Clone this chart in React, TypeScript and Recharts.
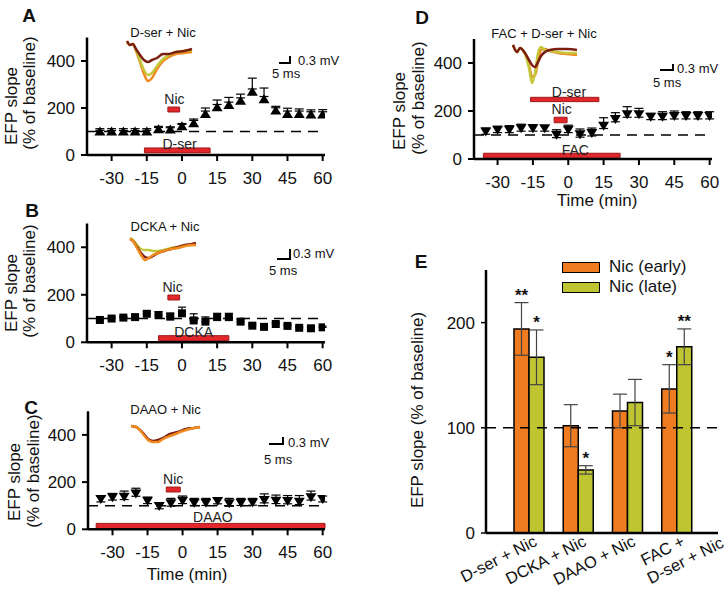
import React from 'react';
import {
  ComposedChart, Scatter, XAxis, YAxis, ReferenceLine, ReferenceArea, ErrorBar,
  LineChart, Line, BarChart, Bar, LabelList,
} from 'recharts';

const FONT = '"Liberation Sans", Arial, Helvetica, sans-serif';

// time course panels (A-D)
const times = [-35, -30, -25, -20, -15, -10, -5, 0, 5, 10, 15, 20, 25, 30, 35, 40, 45, 50, 55, 60];
const timeTicks = [-30, -15, 0, 15, 30, 45, 60];
const slopeTicks = [0, 200, 400];

const slopeA = [100, 100, 100, 100, 100, 110, 108, 122, 135, 175, 203, 213, 231, 269, 237, 189, 175, 175, 172, 172];
const errA = [5, 4, 4, 4, 5, 7, 8, 8, 18, 25, 31, 32, 28, 58, 48, 18, 24, 21, 20, 21];
const slopeB = [94, 100, 104, 106, 120, 115, 108, 122, 92, 87, 106, 106, 87, 70, 65, 77, 69, 61, 59, 63];
const errB = [6, 5, 5, 6, 10, 14, 15, 26, 28, 20, 16, 16, 10, 8, 6, 6, 6, 5, 5, 5];
const slopeC = [128, 136, 138, 152, 121, 99, 110, 121, 113, 113, 120, 110, 113, 114, 124, 121, 120, 117, 136, 128];
const errC = [13, 16, 24, 22, 15, 14, 21, 20, 18, 18, 14, 21, 18, 17, 26, 24, 23, 26, 26, 13];
const slopeD = [115, 122, 122, 128, 128, 128, 101, 122, 103, 108, 139, 167, 186, 186, 176, 176, 179, 179, 179, 179];
const errD = [14, 14, 17, 17, 15, 11, 21, 19, 22, 21, 33, 26, 32, 25, 14, 21, 21, 18, 18, 18];

// drug application windows (min)
const drugsA = [{ name: 'Nic', from: -6, to: -1, labelT: -3.2 }, { name: 'D-ser', from: -16, to: 12, labelT: -1 }];
const drugsB = [{ name: 'Nic', from: -6, to: -1, labelT: -4 }, { name: 'DCKA', from: -10, to: 20, labelT: 5 }];
const drugsC = [{ name: 'Nic', from: -7, to: -1, labelT: -4 }, { name: 'DAAO', from: -37, to: 61, labelT: 13 }];
const drugsD = [
  { name: 'D-ser', from: -16, to: 13, labelT: 0.3 },
  { name: 'Nic', from: -6, to: -0.5, labelT: -2.8 },
  { name: 'FAC', from: -36, to: 22, labelT: 3 },
];

// example EFP traces (baseline / nic early / nic late)
const tA = [1, 4, 7, 10, 14, 18, 22, 26, 31, 37, 43, 50, 58, 66];
const darkRedA = [5, 1, 2, -3, -9, -14, -16, -14, -12, -8, -8, -6, -5, -3];
const orangeA = [4, 1, 2, -5, -16, -28, -35, -32, -23, -15, -11, -8, -7, -6];
const yellowA = [5, 1, 2, -4, -14, -24, -29, -27, -20, -13, -9, -6, -5, -4];
const tB = [2, 5, 9, 13, 17, 21, 25, 30, 36, 43, 50, 57, 64, 68];
const orangeB = [1, -1, -8, -15, -20, -18, -15, -13, -11, -9, -8, -6, -5, -5];
const darkRedB = [1, -1, -7, -13, -17, -18, -16, -13, -11, -9, -7, -5, -4, -3];
const yellowB = [2, 0, -5, -9, -10, -10, -11, -11, -10, -8, -7, -6, -5, -5];
const tC = [3, 8, 12, 15, 20, 25, 30, 35, 42, 50, 58, 66, 72];
const orangeC = [1, 0, -3, -7, -13, -15, -15, -12, -9, -6, -3, -1, 0];
const darkRedC = [1, 0, -3, -6, -12, -14, -13, -11, -7, -5, -2, -1, 0];
const tD = [3, 7, 10, 15, 19, 22, 25, 28, 31, 35, 40, 48, 57, 67];
const darkRedD = [5, -2, 2, -3, -10, -15, -17, -12, -6, -2, 0, 1, 1, 0];
const yellowD = [5, -2, 2, -4, -18, -33, -23, -3, 3, 0, -1, -2, -3, -3];
const orangeD = [5, -2, 2, -4, -15, -27, -25, -12, 0, 1, -1, -3, -4, -5];

// summary panel (E)
const categoriesE = ['D-ser + Nic', 'DCKA + Nic', 'DAAO + Nic', 'FAC +\nD-ser + Nic'];
const earlyVals = [194, 102, 116, 137];
const earlyErr = [25, 20, 16, 23];
const earlySig = ['**', '', '', '*'];
const lateVals = [167, 60, 124, 177];
const lateErr = [26, 4, 22, 17];
const lateSig = ['*', '*', '', '**'];
const seriesE = [
  { key: 'early', name: 'Nic (early)', color: '#F07C22' },
  { key: 'late', name: 'Nic (late)', color: '#BEC531' },
];

const RED = '#E3262B';
const DARK = '#7A1E12';
const ORANGE = '#F08A1E';
const YELLOW = '#C4C73A';

const triUp = (p: any) => (
  <polygon points={`${p.cx},${p.cy - 5} ${p.cx + 5.5},${p.cy + 4} ${p.cx - 5.5},${p.cy + 4}`} fill="#000" />
);
const triDown = (p: any) => (
  <polygon points={`${p.cx - 5.5},${p.cy - 4} ${p.cx + 5.5},${p.cy - 4} ${p.cx},${p.cy + 5}`} fill="#000" />
);
const square = (p: any) => <rect x={p.cx - 4} y={p.cy - 4} width={8} height={8} fill="#000" />;

function Abs({ x, y, size = 13, bold = false, rotate = false, left = false, children }: any) {
  return (
    <div
      style={{
        position: 'absolute', left: x, top: y, fontSize: size, fontWeight: bold ? 'bold' : 'normal',
        transform: `translate(${left ? '0' : '-50%'}, -50%)${rotate ? ' rotate(-90deg)' : ''}`,
        whiteSpace: 'nowrap', lineHeight: 1, fontFamily: FONT, color: '#111',
      }}
    >
      {children}
    </div>
  );
}

function ScaleBar({ x, y, w, h }: any) {
  return (
    <div style={{ position: 'absolute', left: x, top: y, width: w, height: h, boxSizing: 'border-box',
      borderRight: '2px solid #000', borderBottom: '2px solid #000' }} />
  );
}

function Trace({ x, y, w, h, t, series, yDomain }: any) {
  const data = t.map((tt: number, i: number) => {
    const o: any = { t: tt };
    series.forEach((s: any, k: number) => { o['s' + k] = s.values[i]; });
    return o;
  });
  return (
    <div style={{ position: 'absolute', left: x, top: y }}>
      <LineChart width={w} height={h} data={data} margin={{ top: 0, right: 0, bottom: 0, left: 0 }}>
        <XAxis type="number" dataKey="t" hide domain={[0, w]} />
        <YAxis type="number" hide domain={yDomain} allowDataOverflow />
        {series.map((s: any, k: number) => (
          <Line key={k} dataKey={'s' + k} type="monotone" stroke={s.color} strokeWidth={2.5}
            dot={false} isAnimationActive={false} />
        ))}
      </LineChart>
    </div>
  );
}

const drugLabel = (d: any, offset: number) => (props: any) => {
  const vb = props.viewBox;
  const cx = vb.x + ((d.labelT - d.from) / (d.to - d.from)) * vb.width;
  return (
    <text x={cx} y={vb.y - offset} textAnchor="middle" fontSize={14} fontFamily={FONT} fill="#222">
      {d.name}
    </text>
  );
};

// capLow: where the hidden lower whisker sits (inside the marker), in y units relative to the point
function TimePanel({ x, y, w, h, margin, xDomain, values, errs, shape, capLow, capW, drugs, lanes }: any) {
  const data = times.map((t, i) => ({ t, v: values[i], e: [capLow, errs[i]] }));
  const tickStyle = { fill: '#111', fontSize: 17, fontFamily: FONT };
  return (
    <div style={{ position: 'absolute', left: x, top: y }}>
      <ComposedChart width={w} height={h} margin={margin}>
        <XAxis type="number" dataKey="t" domain={xDomain} ticks={timeTicks} allowDataOverflow interval={0}
          tick={tickStyle} axisLine={{ stroke: '#000', strokeWidth: 2.5 }} tickLine={{ stroke: '#000', strokeWidth: 2 }}
          tickSize={6} tickMargin={11} height={30} />
        <YAxis type="number" dataKey="v" domain={[0, 500]} ticks={slopeTicks} allowDataOverflow interval={0}
          tick={tickStyle} axisLine={{ stroke: '#000', strokeWidth: 2.5 }} tickLine={{ stroke: '#000', strokeWidth: 2 }}
          tickSize={6} tickMargin={6} width={40} />
        <ReferenceLine y={100} stroke="#000" strokeWidth={1.5} strokeDasharray="10 7" />
        {drugs.map((d: any, i: number) => (
          <ReferenceArea key={d.name} x1={d.from} x2={d.to} y1={lanes[i][0]} y2={lanes[i][1]}
            fill={RED} fillOpacity={1} stroke="#9E1B1B" strokeWidth={1} ifOverflow="visible"
            label={drugLabel(d, lanes[i][2])} />
        ))}
        <Scatter data={data} dataKey="v" shape={shape} isAnimationActive={false}>
          <ErrorBar dataKey="e" direction="y" width={capW} stroke="#000" strokeWidth={1.2} />
        </Scatter>
      </ComposedChart>
    </div>
  );
}

const sigLabel = (vals: number[], errs: number[]) => (props: any) => {
  const vb = props.viewBox ?? props;
  const { value, index } = props;
  if (!value || index == null) return null;
  const bx = vb.x ?? props.x;
  const by = vb.y ?? props.y;
  const bw = vb.width ?? props.width;
  const bh = vb.height ?? props.height;
  const top = by - errs[index] * (bh / vals[index]);
  return (
    <text x={bx + bw / 2} y={top - 2} textAnchor="middle" fontSize={17} fontWeight="bold" fontFamily={FONT} fill="#111">
      {value}
    </text>
  );
};

const CatTick = (props: any) => {
  const { x, y, payload } = props;
  const lines = String(payload.value).split('\n');
  return (
    <g transform={`translate(${x},${y}) rotate(-27)`}>
      {lines.map((ln, i) => (
        <text key={i} x={3 + i * 34} y={15 + i * 19} textAnchor="end" fontSize={16.5} fontFamily={FONT} fill="#111">
          {ln}
        </text>
      ))}
    </g>
  );
};

export default function App() {
  const dataE = categoriesE.map((c, i) => ({
    cat: c,
    early: earlyVals[i], earlyErr: earlyErr[i], earlySig: earlySig[i],
    late: lateVals[i], lateErr: lateErr[i], lateSig: lateSig[i],
  }));

  return (
    <div style={{ position: 'absolute', left: 0, top: 0, width: 728, height: 594, background: '#fff',
      overflow: 'hidden', fontFamily: FONT }}>
      {/* A */}
      <TimePanel x={0} y={0} w={345} h={200} margin={{ top: 37.5, right: 20, bottom: 15, left: 47 }}
        xDomain={[-40.5, 61]} values={slopeA} errs={errA} shape={triUp} capLow={-12} capW={4.5} drugs={drugsA}
        lanes={[[183, 204, 3], [9, 30, -1]]} />
      <Trace x={126} y={38} w={68} h={46} t={tA} yDomain={[-38, 8]}
        series={[{ color: ORANGE, values: orangeA }, { color: YELLOW, values: yellowA }, { color: DARK, values: darkRedA }]} />
      <Abs x={29} y={15} size={19} bold>A</Abs>
      <Abs x={163} y={32}>D-ser + Nic</Abs>
      <Abs x={11} y={106} size={17} rotate>EFP slope</Abs>
      <Abs x={29} y={92.5} size={17} rotate>(% of baseline)</Abs>
      <ScaleBar x={279} y={56} w={12} h={8} />
      <Abs x={298} y={60} left>0.3 mV</Abs>
      <Abs x={272} y={73} left>5 ms</Abs>

      {/* B */}
      <TimePanel x={0} y={190} w={345} h={200} margin={{ top: 33.5, right: 20, bottom: 17.7, left: 47 }}
        xDomain={[-40.5, 61]} values={slopeB} errs={errB} shape={square} capLow={0} capW={4} drugs={drugsB}
        lanes={[[178, 199, 3], [7, 28, -1]]} />
      <Trace x={128} y={234} w={69} h={30} t={tB} yDomain={[-24, 6]}
        series={[{ color: YELLOW, values: yellowB }, { color: DARK, values: darkRedB }, { color: ORANGE, values: orangeB }]} />
      <Abs x={32} y={210} size={19} bold>B</Abs>
      <Abs x={165} y={226}>DCKA + Nic</Abs>
      <Abs x={11} y={293} size={17} rotate>EFP slope</Abs>
      <Abs x={29} y={281} size={17} rotate>(% of baseline)</Abs>
      <ScaleBar x={277} y={249} w={14} h={11} />
      <Abs x={293} y={252.7} left>0.3 mV</Abs>
      <Abs x={269} y={270} left>5 ms</Abs>

      {/* C */}
      <TimePanel x={0} y={380} w={345} h={214} margin={{ top: 31.3, right: 20, bottom: 34.7, left: 48 }}
        xDomain={[-40.5, 61]} values={slopeC} errs={errC} shape={triDown} capLow={12} capW={4.5} drugs={drugsC}
        lanes={[[158, 179, 3], [3, 25, 1]]} />
      <Trace x={128} y={420} w={76} h={28} t={tC} yDomain={[-21, 7]}
        series={[{ color: DARK, values: darkRedC }, { color: ORANGE, values: orangeC }]} />
      <Abs x={31} y={407} size={19} bold>C</Abs>
      <Abs x={165.5} y={409}>DAAO + Nic</Abs>
      <Abs x={14} y={482} size={17} rotate>EFP slope</Abs>
      <Abs x={33} y={471} size={17} rotate>(% of baseline)</Abs>
      <ScaleBar x={269} y={437} w={15} h={8} />
      <Abs x={288} y={442} left>0.3 mV</Abs>
      <Abs x={264} y={459} left>5 ms</Abs>
      <Abs x={187} y={574} size={17}>Time (min)</Abs>

      {/* D */}
      <TimePanel x={370} y={0} w={358} h={200} margin={{ top: 39, right: 16, bottom: 11, left: 64 }}
        xDomain={[-40, 61]} values={slopeD} errs={errD} shape={triDown} capLow={12} capW={4.5} drugs={drugsD}
        lanes={[[239, 257, 0], [151, 174, 3], [5, 24, -2]]} />
      <Trace x={510} y={40} w={70} h={50} t={tD} yDomain={[-40, 10]}
        series={[{ color: ORANGE, values: orangeD }, { color: YELLOW, values: yellowD }, { color: DARK, values: darkRedD }]} />
      <Abs x={422} y={17} size={19} bold>D</Abs>
      <Abs x={544} y={33}>FAC + D-ser + Nic</Abs>
      <Abs x={399} y={111} size={17} rotate>EFP slope</Abs>
      <Abs x={417.5} y={98} size={17} rotate>(% of baseline)</Abs>
      <ScaleBar x={660} y={64} w={14} h={7} />
      <Abs x={677} y={68} left>0.3 mV</Abs>
      <Abs x={653} y={82} left>5 ms</Abs>
      <Abs x={597} y={200} size={17}>Time (min)</Abs>

      {/* E */}
      <div style={{ position: 'absolute', left: 370, top: 240 }}>
        <BarChart width={358} height={354} data={dataE} barSize={15} barGap={0}
          margin={{ top: 30, right: 10, bottom: 6, left: 76 }}>
          <XAxis dataKey="cat" interval={0} padding={{ left: 18, right: 17 }} tick={<CatTick />}
            axisLine={{ stroke: '#000', strokeWidth: 2.5 }} tickLine={false} tickSize={0} tickMargin={0} height={55} />
          <YAxis domain={[0, 250]} ticks={[0, 100, 200]} interval={0} allowDataOverflow
            tick={{ fill: '#111', fontSize: 17, fontFamily: FONT }} axisLine={{ stroke: '#000', strokeWidth: 2.5 }}
            tickLine={{ stroke: '#000', strokeWidth: 1.5 }} tickSize={5} tickMargin={6} width={40} />
          <Bar dataKey="early" name={seriesE[0].name} fill={seriesE[0].color} stroke="#000" strokeWidth={1.5}
            isAnimationActive={false}>
            <ErrorBar dataKey="earlyErr" direction="y" width={7} stroke="#444" strokeWidth={1.2} />
            <LabelList dataKey="earlySig" content={sigLabel(earlyVals, earlyErr)} />
          </Bar>
          <Bar dataKey="late" name={seriesE[1].name} fill={seriesE[1].color} stroke="#000" strokeWidth={1.5}
            isAnimationActive={false}>
            <ErrorBar dataKey="lateErr" direction="y" width={7} stroke="#444" strokeWidth={1.2} />
            <LabelList dataKey="lateSig" content={sigLabel(lateVals, lateErr)} />
          </Bar>
          <ReferenceLine y={100} stroke="#000" strokeWidth={1.5} strokeDasharray="10 7" />
        </BarChart>
      </div>
      <Abs x={421} y={261} size={19} bold>E</Abs>
      <Abs x={417} y={410} size={17} rotate>EFP slope (% of baseline)</Abs>
      <div style={{ position: 'absolute', left: 562, top: 257, fontFamily: FONT }}>
        {seriesE.map((s) => (
          <div key={s.key} style={{ display: 'flex', alignItems: 'center', height: 20 }}>
            <div style={{ width: 38, height: 11, background: s.color, border: '1.5px solid #000', boxSizing: 'border-box' }} />
            <span style={{ marginLeft: 9, fontSize: 17, color: '#111' }}>{s.name}</span>
          </div>
        ))}
      </div>
    </div>
  );
}
